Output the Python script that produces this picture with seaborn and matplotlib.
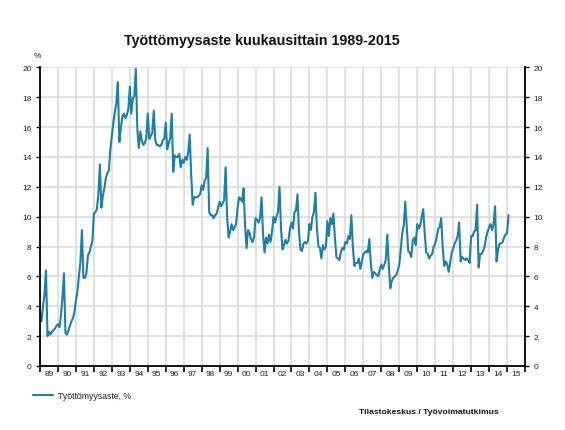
import numpy as np
import pandas as pd
import matplotlib
matplotlib.use("Agg")
import matplotlib.pyplot as plt
import seaborn as sns
from matplotlib.ticker import FixedLocator, NullFormatter, FixedFormatter

# Monthly unemployment rate (%), Jan..Dec
y1989 = [3.6, 3.0, 4.0, 4.8, 6.4, 2.0, 2.3, 2.1, 2.3, 2.4, 2.5, 2.7]
y1990 = [2.8, 2.6, 3.4, 4.6, 6.2, 2.2, 2.1, 2.4, 2.7, 3.0, 3.2, 3.6]
y1991 = [4.4, 5.0, 6.0, 7.0, 9.1, 5.9, 5.9, 6.2, 7.4, 7.6, 8.0, 8.4]
y1992 = [10.2, 10.3, 10.5, 11.5, 13.5, 10.6, 11.4, 11.9, 12.6, 12.9, 13.1, 14.5]
y1993 = [15.4, 16.3, 17.0, 17.6, 19.0, 15.0, 15.9, 16.7, 16.9, 16.6, 16.8, 17.2]
y1994 = [18.7, 16.9, 17.9, 18.1, 19.9, 15.9, 14.6, 15.7, 15.1, 14.8, 14.9, 15.3]
y1995 = [16.9, 15.2, 15.4, 15.6, 17.1, 15.1, 14.8, 14.8, 14.7, 14.8, 15.1, 15.2]
y1996 = [16.3, 14.5, 14.9, 15.3, 16.9, 13.0, 14.1, 14.0, 14.0, 14.2, 13.3, 13.8]
y1997 = [13.6, 14.0, 13.8, 14.3, 15.5, 12.8, 10.8, 11.3, 11.3, 11.3, 11.4, 11.5]
y1998 = [12.1, 11.8, 12.4, 12.6, 14.6, 10.3, 10.1, 10.1, 9.9, 10.1, 10.2, 10.6]
y1999 = [11.0, 10.7, 10.9, 11.1, 13.3, 10.0, 8.6, 9.0, 9.5, 9.1, 9.3, 9.5]
y2000 = [10.6, 11.3, 11.2, 11.0, 11.9, 9.4, 7.9, 9.1, 8.9, 8.5, 8.3, 8.6]
y2001 = [9.9, 9.8, 9.6, 9.9, 11.3, 8.8, 7.6, 8.6, 8.2, 8.8, 8.3, 9.0]
y2002 = [10.0, 9.6, 10.0, 10.3, 12.0, 9.2, 7.8, 8.1, 8.45, 8.2, 8.4, 9.2]
y2003 = [9.6, 9.2, 10.3, 10.4, 11.5, 9.0, 7.8, 7.7, 8.2, 8.3, 8.2, 8.4]
y2004 = [9.5, 9.1, 10.0, 10.3, 11.6, 9.2, 8.0, 7.9, 7.2, 8.1, 7.8, 8.0]
y2005 = [9.7, 8.7, 9.9, 9.5, 10.2, 8.6, 7.3, 7.2, 7.1, 7.6, 7.9, 7.8]
y2006 = [8.3, 8.2, 8.7, 8.5, 10.1, 8.0, 6.7, 6.9, 6.9, 7.2, 6.5, 7.0]
y2007 = [7.5, 7.6, 7.7, 7.6, 8.5, 6.9, 5.9, 6.3, 6.2, 6.1, 6.0, 6.5]
y2008 = [6.8, 6.5, 6.8, 7.1, 8.8, 6.8, 5.2, 5.7, 5.9, 6.0, 6.1, 6.4]
y2009 = [6.8, 7.8, 8.9, 9.4, 11.0, 9.3, 7.7, 7.6, 7.3, 8.4, 8.6, 8.1]
y2010 = [9.5, 9.2, 9.4, 10.0, 10.5, 8.9, 7.6, 7.5, 7.2, 7.4, 7.5, 8.0]
y2011 = [8.2, 8.6, 9.2, 9.3, 9.9, 8.0, 6.7, 7.0, 6.8, 6.3, 6.9, 7.6]
y2012 = [7.85, 8.2, 8.4, 8.7, 9.6, 7.0, 7.3, 7.2, 7.1, 7.2, 7.1, 6.9]
y2013 = [8.7, 8.7, 9.0, 9.1, 10.8, 6.6, 7.5, 7.5, 7.7, 8.0, 8.6, 9.0]
y2014 = [9.3, 9.5, 9.1, 9.5, 10.7, 7.0, 7.8, 8.2, 8.2, 8.3, 8.6, 8.8]
y2015 = [8.9, 10.1]

years_data = [y1989, y1990, y1991, y1992, y1993, y1994, y1995, y1996, y1997,
              y1998, y1999, y2000, y2001, y2002, y2003, y2004, y2005, y2006,
              y2007, y2008, y2009, y2010, y2011, y2012, y2013, y2014, y2015]
first_year = 1989
year_labels = ["89", "90", "91", "92", "93", "94", "95", "96", "97", "98", "99",
               "00", "01", "02", "03", "04", "05", "06", "07", "08", "09", "10",
               "11", "12", "13", "14", "15"]
y_ticks = [0, 2, 4, 6, 8, 10, 12, 14, 16, 18, 20]

rows = []
for k, vals in enumerate(years_data):
    for m, v in enumerate(vals):
        rows.append({"t": first_year + k + m / 12.0, "rate": v})
df = pd.DataFrame(rows)

sns.set_theme(style="white")
plt.rcParams["font.family"] = ["Liberation Sans", "DejaVu Sans"]

W, H = 565, 431
fig = plt.figure(figsize=(W / 100, H / 100), dpi=100)
ax = fig.add_axes([40 / W, 64 / H, 485 / W, (367 - 68.3) / H])

line_color = "#1f7fa5"
sns.lineplot(data=df, x="t", y="rate", color=line_color, linewidth=1.5,
             ax=ax, legend=False, label="Työttömyysaste, %")

n_years = len(years_data)
ax.set_xlim(first_year, first_year + n_years)
ax.set_ylim(0, 20)

# grid
ax.xaxis.set_major_locator(FixedLocator([first_year + i for i in range(n_years + 1)]))
ax.xaxis.set_major_formatter(NullFormatter())
ax.xaxis.set_minor_locator(FixedLocator([first_year + i + 0.5 for i in range(n_years)]))
ax.xaxis.set_minor_formatter(FixedFormatter(year_labels))
ax.set_yticks(y_ticks)
ax.set_yticklabels([str(v) for v in y_ticks])
ax.grid(True, which="major", color="#d9d9d9", linewidth=1.1)
ax.set_axisbelow(True)

ax.tick_params(axis="x", which="major", length=4, width=1.2, color="black",
               direction="out", bottom=True)
ax.tick_params(axis="x", which="minor", length=0, labelsize=6, pad=3,
               labelcolor="#222222")
ax.tick_params(axis="y", which="major", length=3, width=1.0, color="black",
               direction="out", left=True, right=True, labelleft=True,
               labelright=True, labelsize=6, pad=3, labelcolor="#222222")

for side in ["left", "right", "bottom"]:
    ax.spines[side].set_visible(True)
    ax.spines[side].set_color("black")
    ax.spines[side].set_linewidth(1.3)
ax.spines["top"].set_visible(False)
ax.set_xlabel("")
ax.set_ylabel("")

fig.text(262 / W, 1 - 41 / H, "Työttömyysaste kuukausittain 1989-2015",
         ha="center", va="center", fontsize=10.3, fontweight="bold", color="#111111")
fig.text(37 / W, 1 - 57 / H, "%", ha="center", va="center", fontsize=6, color="#222222")

ax.legend(loc="center left", bbox_to_anchor=(33 / W, 1 - 397 / H),
          bbox_transform=fig.transFigure, frameon=False, fontsize=6.3,
          handlelength=2.3, handletextpad=0.5, borderaxespad=0, borderpad=0)

fig.text(499 / W, 1 - 413 / H, "Tilastokeskus / Työvoimatutkimus",
         ha="right", va="center", fontsize=6.1, fontweight="bold", color="#111111")

fig.savefig("out.png", dpi=100, facecolor="white")
